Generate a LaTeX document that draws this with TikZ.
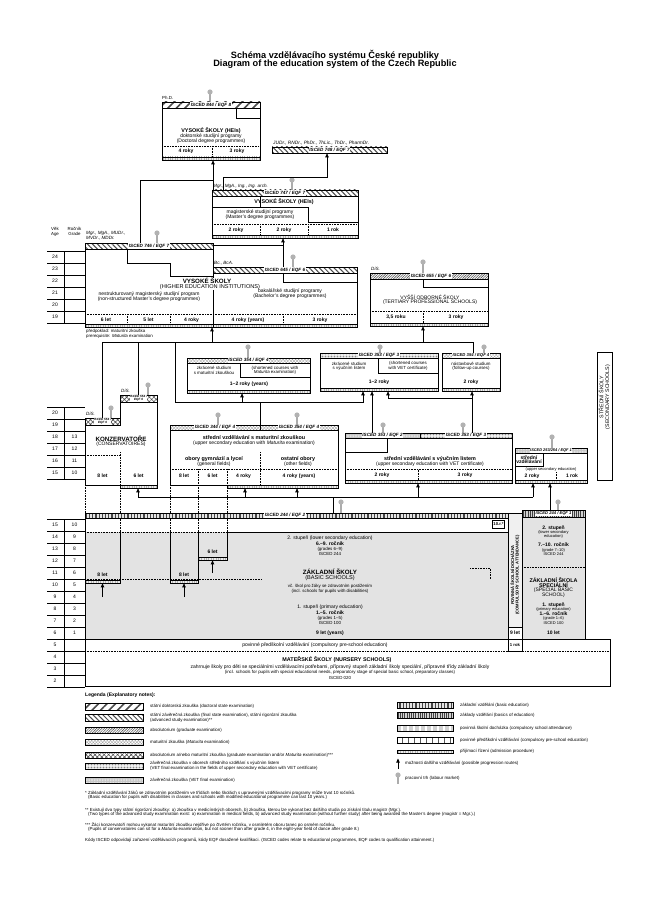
\documentclass[tikz,border=0pt]{standalone}
\usepackage{fontspec}
\setmainfont{Liberation Sans}
\usetikzlibrary{patterns.meta,arrows.meta}
\newcommand{\mkpin}[4]{\coordinate (#1) at (#2,#3);\draw[pinl] (#1) -- (#2,#4);\fill[pinh] (#1) circle (2.6pt);}
\begin{document}
\begin{tikzpicture}[x=1pt,y=-1pt,
 t/.style={font=\fontsize{5}{5.5}\selectfont,inner sep=0pt},
 tb/.style={font=\fontsize{5.4}{6}\selectfont\bfseries,inner sep=0pt},
 th/.style={font=\fontsize{6.2}{6.5}\selectfont\bfseries,inner sep=0pt},
 ty/.style={font=\fontsize{5}{5.5}\selectfont\bfseries,inner sep=0pt},
 ts/.style={font=\fontsize{4.4}{4.9}\selectfont,inner sep=0pt},
 tl/.style={font=\fontsize{4.4}{4.9}\selectfont,inner sep=0pt,anchor=west},
 lbl/.style={font=\fontsize{4.6}{4.6}\selectfont\bfseries\itshape,fill=white,inner sep=0.5pt},
 lbls/.style={font=\fontsize{3.1}{3.3}\selectfont\bfseries\itshape,fill=white,inner sep=0.3pt,align=center},
 box/.style={draw,line width=0.6pt,inner sep=0pt},
 ln/.style={line width=0.7pt},
 arr/.style={line width=0.7pt,-{Triangle[length=4pt,width=3.4pt]}},
 dotl/.style={line width=0.4pt,dash pattern=on 0.7pt off 0.9pt},
 bar/.style={draw,line width=0.6pt},
 pinl/.style={line width=1.3pt,gray!65},
 pinh/.style={fill=gray!60},
 doct/.style={pattern={Lines[angle=45,distance=6pt,line width=1.6pt]},pattern color=gray!60!black},
 sz/.style={pattern={Lines[angle=-45,distance=3.5pt,line width=1pt]},pattern color=gray!60!black},
 abs/.style={pattern={Lines[angle=45,distance=1.8pt,line width=0.6pt]},pattern color=gray!70!black},
 mat/.style={pattern={Hatch[angle=45,distance=2.2pt,line width=0.3pt]},pattern color=gray!75},
 absmat/.style={pattern={Hatch[angle=45,distance=3.2pt,line width=0.6pt]},pattern color=gray!60!black},
 vet/.style={pattern={Dots[distance=1.5pt,radius=0.35pt]},pattern color=gray!60!black},
 zav/.style={preaction={fill=gray!45},pattern={Dots[distance=1.6pt,radius=0.4pt]},pattern color=white},
 zv/.style={preaction={fill=gray!20},pattern={Lines[angle=90,distance=3.2pt,line width=1.2pt]},pattern color=gray!55!black},
 zakl/.style={preaction={fill=gray!35},pattern={Lines[angle=90,distance=2.2pt,line width=0.9pt]},pattern color=black!75},
 psd/.style={preaction={fill=gray!35},pattern={Lines[angle=90,distance=6pt,line width=1.5pt]},pattern color=white},
 ppv/.style={pattern={Lines[angle=90,distance=6pt,line width=0.4pt]},pattern color=gray!70!black},
 adm/.style={draw,line width=0.4pt,preaction={fill=gray!15},pattern={Lines[angle=90,distance=2.4pt,line width=0.9pt]},pattern color=gray!60},
 gz/.style={fill=gray!22}]
\useasboundingbox (0,0) rectangle (647,904);
\fill[white] (0,0) rectangle (647,904);
% ---------- title
\node[font=\fontsize{9.2}{9.2}\selectfont\bfseries] (ti1) at (335,55) {Schéma vzdělávacího systému České republiky};
\node[font=\fontsize{9.2}{9.2}\selectfont\bfseries] (ti2) at (335,64.5) {Diagram of the education system of the Czech Republic};
% ---------- age / grade grid
\node[ts] (hv1) at (55,229) {Věk};
\node[ts] (hv2) at (55,234) {Age};
\node[ts] (hr1) at (74.5,229) {Ročník};
\node[ts] (hr2) at (74.5,234) {Grade};
\foreach \a [count=\i] in {24,23,22,21,20,19} \node[t] (ta\i) at (55,{245+12*\i}) {\a};
\foreach \k in {0,...,6} \draw[line width=0.5pt] (47,{251+12*\k}) -- (85,{251+12*\k});
\foreach \a/\g [count=\i] in {20/,19/,18/13,17/12,16/11,15/10} {\node[t] (sa\i) at (55,{401+12*\i}) {\a}; \node[t] (sg\i) at (74.5,{401+12*\i}) {\g};}
\foreach \k in {0,...,6} \draw[line width=0.5pt] (47,{407+12*\k}) -- (85,{407+12*\k});
\foreach \a/\g [count=\i] in {15/10,14/9,13/8,12/7,11/6,10/5,9/4,8/3,7/2,6/1,5/,4/,3/,2/} {\node[t] (ba\i) at (55,{513+12*\i}) {\a}; \node[t] (bg\i) at (74.5,{513+12*\i}) {\g};}
\foreach \k in {0,...,14} \draw[line width=0.5pt] (47,{519+12*\k}) -- (85,{519+12*\k});
\draw[line width=0.4pt] (64,251)--(64,323) (64,407)--(64,479) (64,519)--(64,687);
% ---------- doctoral
\mkpin{p844}{210}{92}{102}
\node[tl] (phd) at (162,98) {Ph.D.};
\path[bar,doct] (162,102) rectangle (260,108);
\node[lbl] (b844) at (211,105) {ISCED 844 / EQF 8};
\node[box,minimum width=98pt,minimum height=49pt] (doc) at (211,132.5) {};
\draw[ln] (236,108) -- (236,118) -- (260,118);
\node[tb] (doc1) at (211,131) {VYSOKÉ ŠKOLY (HEIs)};
\node[t] (doc2) at (211,136.5) {doktorské studijní programy};
\node[t] (doc3) at (211,141) {(Doctoral degree programmes)};
\draw[dotl] (162,146) -- (260,146) (212,146) -- (212,157);
\node[ty] (doc4) at (186,151.5) {4 roky};
\node[ty] (doc5) at (237,151.5) {3 roky};
\path[adm] (162,157) rectangle (260,160);
% ---------- rigorosum
\node[font=\fontsize{4.8}{5}\selectfont\itshape,inner sep=0pt,anchor=west] (judr) at (273,143) {JUDr., RNDr., PhDr., ThLic., ThDr., PharmDr.};
\path[bar,sz] (272,147) rectangle (387,153);
\node[lbl] (b748) at (329.5,150) {ISCED 748 / EQF 7};
% ---------- master
\mkpin{p747}{292}{180}{190}
\node[font=\fontsize{4.6}{5}\selectfont\itshape,inner sep=0pt,anchor=west] (mgr) at (213,186) {Mgr., MgA., Ing., Ing. arch.};
\path[bar,sz] (212,190) rectangle (358,196);
\node[lbl] (b747) at (285,193) {ISCED 747 / EQF 7};
\node[box,minimum width=146pt,minimum height=39pt] (mag) at (285,215.5) {};
\draw[ln] (260,196) -- (260,207) (212,207) -- (308,207) -- (308,222) -- (358,222);
\node[tb] (mag1) at (284,202) {VYSOKÉ ŠKOLY (HEIs)};
\node[t] (mag2) at (260,212.5) {magisterské studijní programy};
\node[t] (mag3) at (260,217) {(Master's degree programmes)};
\draw[dotl] (212,224) -- (358,224) (260,224) -- (260,235) (308,224) -- (308,235);
\node[ty] (mag4) at (236,230) {2 roky};
\node[ty] (mag5) at (284,230) {2 roky};
\node[ty] (mag6) at (333,230) {1 rok};
\path[adm] (212,235) rectangle (358,238);
% connectors to doctoral / rigorosum
\coordinate (c746) at (140,243);
\coordinate (cdj) at (213,180);
\coordinate (cmag) at (213,190);
\coordinate (cdoc) at (213,160.3);
\coordinate (cmag2) at (223,190);
\coordinate (cj1) at (327,177);
\coordinate (cj2) at (327,153.3);
\draw[ln] (c746) |- (cdj);
\draw[arr] (cmag) -- (cdoc);
\draw[arr] (cmag2) |- (cj1) -- (cj2);
% ---------- long master
\node[font=\fontsize{4.6}{5}\selectfont\itshape,inner sep=0pt,anchor=west] (mud1) at (86,233.5) {Mgr., MgA., MUDr.,};
\node[font=\fontsize{4.6}{5}\selectfont\itshape,inner sep=0pt,anchor=west] (mud2) at (86,238.5) {MVDr., MDDr.};
\mkpin{p746}{157}{233}{243}
\path[bar,sz] (85,243) rectangle (213,249);
\node[lbl] (b746) at (149,246) {ISCED 746 / EQF 7};
\node[box,minimum width=128pt,minimum height=75pt] (nes) at (149,286.5) {};
\draw[ln] (127,249) -- (127,263) -- (170,263) -- (170,276) -- (213,276);
\node[t] (nes1) at (149,294) {nestrukturovaný magisterský studijní program};
\node[t] (nes2) at (149,299) {(non-structured Master's degree programmes)};
\draw[dotl] (85,314) -- (213,314) (127,314) -- (127,324) (170,314) -- (170,324);
\node[ty] (nes3) at (106,320) {6 let};
\node[ty] (nes4) at (148.5,320) {5 let};
\node[ty] (nes5) at (191.5,320) {4 roky};
\path[adm] (85,324) rectangle (213,327);
% ---------- bachelor
\node[font=\fontsize{4.6}{5}\selectfont\itshape,inner sep=0pt,anchor=west] (bc) at (214,263) {Bc., BcA.};
\mkpin{p645}{293}{257}{267}
\path[bar,sz] (213,267) rectangle (357,273);
\node[lbl] (b645) at (285,270) {ISCED 645 / EQF 6};
\node[box,minimum width=144pt,minimum height=51pt] (bak) at (285,298.5) {};
\draw[ln] (283,273) -- (283,282) -- (357,282);
\node[th,fill=white,inner sep=0.4pt] (vs1) at (207,281) {VYSOKÉ ŠKOLY};
\node[font=\fontsize{5.6}{6}\selectfont,fill=white,inner sep=0.3pt] (vs2) at (210,287) {(HIGHER EDUCATION INSTITUTIONS)};
\node[t] (bak1) at (290,291) {bakalářské studijní programy};
\node[t] (bak2) at (290,296) {(Bachelor's degree programmes)};
\draw[dotl] (213,314) -- (357,314) (283,314) -- (283,324);
\node[ty] (bak3) at (248,320) {4 roky (years)};
\node[ty] (bak4) at (320,320) {3 roky};
\path[adm] (213,324) rectangle (357,327);
\coordinate (cb1) at (283,267);
\coordinate (cb2) at (283,238.3);
\coordinate (cb3) at (213,245.5);
\coordinate (cb4) at (283,245.5);
\draw[arr] (cb1) -- (cb2);
\draw[ln] (cb3) -- (cb4);
% ---------- tertiary professional
\node[font=\fontsize{4.6}{5}\selectfont\itshape,inner sep=0pt,anchor=west] (dis1) at (371,269) {DiS.};
\mkpin{p655}{423}{262}{273}
\path[bar,abs] (370,273) rectangle (488,279);
\node[lbl] (b655) at (431,276) {ISCED 655 / EQF 6};
\node[box,minimum width=118pt,minimum height=44pt] (vos) at (429,301) {};
\draw[ln] (423,279) -- (423,287) -- (488,287);
\node[t] (vos1) at (430,297) {VYŠŠÍ ODBORNÉ ŠKOLY};
\node[t] (vos2) at (430,302) {(TERTIARY PROFESSIONAL SCHOOLS)};
\draw[dotl] (370,311) -- (488,311) (423,311) -- (423,323);
\node[ty] (vos3) at (396,317) {3,5 roku};
\node[ty] (vos4) at (456,317) {3 roky};
\path[adm] (370,323) rectangle (488,326);
% prerequisite
\node[tl] (pre1) at (86,331.5) {předpoklad: maturitní zkouška};
\node[tl] (pre2) at (86,336) {prerequisite: \textit{Maturita} examination};
% ---------- collector line of Maturita holders
\coordinate (k1) at (102,342);
\coordinate (k2) at (473,342);
\draw[ln] (k1) -- (k2);
\coordinate (kv1) at (212,342); \coordinate (kv2) at (212,327.3);
\coordinate (kw1) at (423,342); \coordinate (kw2) at (423,326.3);
\coordinate (kn) at (473,353);
\coordinate (kk1) at (102,418);
\coordinate (kk2a) at (138,342); \coordinate (kk2) at (138,395);
\draw[arr] (kv1) -- (kv2);
\draw[arr] (kw1) -- (kw2);
\draw[ln] (k2) -- (kn);
\draw[ln] (k1) -- (kk1);
\draw[ln] (kk2a) -- (kk2);
\coordinate (g1) at (260,425); \coordinate (g2) at (175,402); \coordinate (g3) at (175,342);
\draw[ln] (g1) |- (g2) -- (g3);
\coordinate (g4) at (260,402); \coordinate (g5) at (363,402); \coordinate (g6) at (363,391.3);
\draw[arr] (g4) -- (g5) -- (g6);
\coordinate (g7) at (242,402); \coordinate (g8) at (242,393.3);
\draw[arr] (g7) -- (g8);
% ---------- shortened courses with Maturita
\mkpin{p354a}{248}{347}{358}
\path[bar,mat] (187,358) rectangle (310,363);
\node[lbl] (b354a) at (248.5,360.5) {ISCED 354 / EQF 4};
\node[box,minimum width=123pt,minimum height=27pt] (zkm) at (248.5,376.5) {};
\node[ts] (zkm1) at (214,368) {zkrácené studium};
\node[ts] (zkm2) at (214,372.5) {s maturitní zkouškou};
\draw[line width=0.5pt] (240,363) -- (240,377) -- (310,377);
\node[ts] (zkm3) at (275,368) {(shortened courses with};
\node[ts] (zkm4) at (275,372.5) {\textit{Maturita} examination)};
\node[ty] (zkm5) at (249,384) {1–2 roky (years)};
\path[adm] (187,390) rectangle (310,393);
% ---------- shortened courses with VET certificate
\mkpin{p353a}{380}{347}{353}
\path[bar,vet] (320,353) rectangle (438,358);
\node[lbl] (b353a) at (379,355.5) {ISCED 353 / EQF 3};
\node[box,minimum width=118pt,minimum height=30pt] (zkv) at (379,373) {};
\node[ts] (zkv1) at (349,363.5) {zkrácené studium};
\node[ts] (zkv2) at (349,368) {s výučním listem};
\draw[line width=0.5pt] (378,358) -- (378,373) -- (438,373);
\node[ts] (zkv3) at (408,363.5) {(shortened courses};
\node[ts] (zkv4) at (408,368) {with VET certificate)};
\node[ty] (zkv5) at (379,382) {1–2 roky};
\path[adm] (320,388) rectangle (438,391);
% ---------- follow-up courses
\mkpin{p354b}{484}{347}{353}
\path[bar,mat] (442,353) rectangle (500,358);
\node[lbl,font=\fontsize{4.2}{4.2}\selectfont\bfseries\itshape] (b354b) at (471,355.5) {ISCED 354 / EQF 4};
\node[box,minimum width=58pt,minimum height=30pt] (nas) at (471,373) {};
\node[ts] (nas1) at (471,364) {nástavbové studium};
\node[ts] (nas2) at (471,368.5) {(follow-up courses)};
\node[ty] (nas3) at (471,382) {2 roky};
\path[adm] (442,388) rectangle (500,391);
% routes from VET
\coordinate (v1) at (472,433); \coordinate (v2) at (472,391.3);
\coordinate (v3) at (472,398); \coordinate (v4) at (388,391.3);
\coordinate (v5) at (372,433); \coordinate (v6) at (372,391.3);
\draw[arr] (v1) -- (v2);
\draw[arr] (v3) -| (v4);
\draw[arr] (v5) -- (v6);
% ---------- secondary schools bracket
\node[draw,line width=0.6pt,minimum width=15pt,minimum height=128pt] (ss) at (604.5,416) {};
\node[rotate=90,font=\fontsize{5.3}{5.8}\selectfont,align=center,inner sep=0pt] (sst) at (604.5,397) {STŘEDNÍ ŠKOLY\\(SECONDARY SCHOOLS)};
% ---------- conservatoires
\node[font=\fontsize{4.6}{5}\selectfont\itshape,inner sep=0pt,anchor=west] (dis2) at (121,391) {DiS.};
\mkpin{p554a}{148}{385}{395}
\path[bar,absmat] (120,395) rectangle (157,402);
\node[lbls] (b554a) at (138.5,398.5) {ISCED 554 /\\EQF 6};
\node[font=\fontsize{4.6}{5}\selectfont\itshape,inner sep=0pt,anchor=west] (dis3) at (86,414) {DiS.};
\mkpin{p554b}{111}{408}{418}
\path[bar,absmat] (85,418) rectangle (120,425);
\node[lbls] (b554b) at (102.5,421.5) {ISCED 554 /\\EQF 6};
\draw[line width=0.6pt] (85,425) -- (85,485) -- (157,485) -- (157,402) (120,402) -- (120,425);
\draw[dotl] (85,455) -- (120,455) (120,452) -- (120,485);
\node[th] (kon1) at (121,439) {KONZERVATOŘE};
\node[t] (kon2) at (121,444.5) {(CONSERVATOIRES)};
\node[ty] (kon3) at (102.5,476) {8 let};
\node[ty] (kon4) at (138.5,476) {6 let};
\path[adm] (120,485) rectangle (157,488);
% ---------- basic school area (fill first)
\fill[gz] (85,532) rectangle (508,639);
\fill[gz] (522,517) rectangle (585,639);
% ---------- upper secondary with Maturita
\mkpin{p344}{218}{415}{425}
\mkpin{p354c}{297}{415}{425}
\path[bar,mat] (170,425) rectangle (260,430);
\path[bar,mat] (260,425) rectangle (338,430);
\node[lbl] (b344) at (215,427.5) {ISCED 344 / EQF 4};
\node[lbl] (b354c) at (299,427.5) {ISCED 354 / EQF 4};
\node[box,minimum width=168pt,minimum height=55pt] (smz) at (254,457.5) {};
\node[tb] (smz1) at (254,438) {střední vzdělávání s maturitní zkouškou};
\node[t] (smz2) at (254,443.5) {(upper secondary education with \textit{Maturita} examination)};
\node[tb] (smz3) at (214,459) {obory gymnázií a lyceí};
\node[t] (smz4) at (214,464) {(general fields)};
\node[tb] (smz5) at (298,459) {ostatní obory};
\node[t] (smz6) at (298,464) {(other fields)};
\draw[dotl] (260,452) -- (260,485) (170,469) -- (338,469) (198,469) -- (198,485) (227,469) -- (227,485);
\node[ty] (smz7) at (184,476) {8 let};
\node[ty] (smz8) at (212.5,476) {6 let};
\node[ty] (smz9) at (243.5,476) {4 roky};
\node[ty] (smz10) at (299,476) {4 roky (years)};
\path[adm] (227,485) rectangle (338,488);
% long columns reaching into basic school
\draw[dotl] (170,485) -- (170,532) (198,485) -- (198,532) (227,485) -- (227,532) (120,485) -- (120,532) (85,485) -- (85,513);
\draw[ln] (170,532) -- (170,580) (198,532) -- (198,580) (227,532) -- (227,557) (120,532) -- (120,580);
\path[adm] (170,580) rectangle (198,583);
\path[adm] (198,557) rectangle (227,560);
\path[adm] (85,580) rectangle (120,583);
\node[ty] (col1) at (184,575) {8 let};
\node[ty] (col2) at (212.5,552) {6 let};
\node[ty] (col3) at (102.5,575) {8 let};
\coordinate (e1) at (184,597); \coordinate (e1b) at (184,583.3);
\coordinate (e2) at (212.5,573); \coordinate (e2b) at (212.5,560.3);
\coordinate (e3) at (102.5,597); \coordinate (e3b) at (102.5,583.3);
\draw[arr] (e1) -- (e1b);
\draw[arr] (e2) -- (e2b);
\draw[arr] (e3) -- (e3b);
% ---------- VET certificate
\mkpin{p353b}{383}{425}{433}
\mkpin{p353c}{463}{425}{433}
\path[bar,zav] (345,433) rectangle (420,438);
\path[bar,vet] (420,433) rectangle (512,438);
\node[lbl] (b353b) at (382.5,435.5) {ISCED 353 / EQF 2};
\node[lbl] (b353c) at (466,435.5) {ISCED 353 / EQF 3};
\node[box,minimum width=167pt,minimum height=42pt] (vetb) at (428.5,459) {};
\draw[ln] (345,452) -- (387,452) -- (387,438);
\node[tb] (vet1) at (430,459.5) {střední vzdělávání s výučním listem};
\node[t] (vet2) at (430,464.5) {(upper secondary education with VET certificate)};
\draw[dotl] (345,469.5) -- (512,469.5) (418,469.5) -- (418,480);
\node[ty] (vet3) at (382,475.5) {2 roky};
\node[ty] (vet4) at (465,475.5) {3 roky};
\path[adm] (345,480) rectangle (512,483);
% ---------- upper secondary education (without certificate)
\mkpin{p253}{552}{437}{448}
\path[bar,zav] (515,448) rectangle (587,453);
\node[lbl,font=\fontsize{3.9}{3.9}\selectfont\bfseries\itshape] (b253) at (551,450.5) {ISCED 253/254 / EQF 1};
\node[box,minimum width=72pt,minimum height=27pt] (svb) at (551,466.5) {};
\draw[line width=0.5pt] (515,466) -- (543,466) -- (543,453);
\node[ty] (sv1) at (529,457.5) {střední};
\node[ty] (sv2) at (529,462) {vzdělávání};
\node[font=\fontsize{4}{4}\selectfont,inner sep=0pt] (sv3) at (551,469.5) {(upper secondary education)};
\draw[dotl] (556,472) -- (556,480);
\node[ty] (sv4) at (532,476) {2 roky};
\node[ty] (sv5) at (572,476) {1 rok};
\path[adm] (515,480) rectangle (587,483);
% ---------- graduates of basic education line
\coordinate (h1) at (138,497); \coordinate (h2) at (533,497);
\draw[ln] (h1) -- (h2);
\coordinate (h1b) at (138,488.3);
\coordinate (h3) at (245,497); \coordinate (h3b) at (245,488.3);
\coordinate (h4) at (297,497); \coordinate (h4b) at (297,488.3);
\coordinate (h5) at (418,497); \coordinate (h5b) at (418,483.3);
\coordinate (h2b) at (533,483.3);
\coordinate (h6) at (333,497); \coordinate (h6b) at (333,513);
\draw[arr] (h1) -- (h1b);
\draw[arr] (h3) -- (h3b);
\draw[arr] (h4) -- (h4b);
\draw[arr] (h5) -- (h5b);
\draw[arr] (h2) -- (h2b);
\draw[ln] (h6) -- (h6b);
\mkpin{p244}{341}{502}{513}
% ---------- basic school
\path[bar,zv] (85,513) rectangle (508,518);
\node[lbl] (b244) at (285,515.5) {ISCED 244 / EQF 2};
\draw[dotl] (85,532) -- (227,532);
\draw[ln] (227,532) -- (508,532);
\node[draw,line width=0.5pt,font=\fontsize{4.2}{4.2}\selectfont\bfseries,inner sep=1pt,minimum height=8pt] (r10) at (498.5,524.5) {10.r.*};
\draw[dotl] (85,579) -- (262,579) (470,568) -- (490,568) -- (490,579);
\node[t] (zs1) at (330,538) {2. stupeň (lower secondary education)};
\node[ty] (zs2) at (330,544) {6.–9. ročník};
\node[ts] (zs3) at (330,549) {(grades 6–9)};
\node[ts] (zs4) at (330,554) {ISCED 244};
\node[th] (zs5) at (330,571.5) {ZÁKLADNÍ ŠKOLY};
\node[font=\fontsize{5.6}{6}\selectfont,inner sep=0pt] (zs6) at (330,578.5) {(BASIC SCHOOLS)};
\node[ts] (zs7) at (330,586) {vč. škol pro žáky se zdravotním postižením};
\node[ts] (zs8) at (330,591) {(incl. schools for pupils with disabilities)};
\node[t] (zs9) at (330,607) {1. stupeň (primary education)};
\node[ty] (zs10) at (330,613) {1.–5. ročník};
\node[ts] (zs11) at (330,618) {(grades 1–5)};
\node[ts] (zs12) at (330,623) {ISCED 100};
\node[ty] (zs13) at (330,633) {9 let (years)};
% compulsory attendance band
\node[draw,line width=0.5pt,fill=gray!12,minimum width=14pt,minimum height=114pt] (psdb) at (515,570) {};
\node[rotate=90,font=\fontsize{4.1}{4.6}\selectfont\bfseries,align=center,inner sep=0pt] (psdt) at (515,575) {POVINNÁ ŠKOLNÍ DOCHÁZKA\\(COMPULSORY SCHOOL ATTENDANCE)};
\node[draw,line width=0.5pt,ty,minimum width=14pt,minimum height=12pt] (nine) at (515,633) {9 let};
\node[draw,line width=0.5pt,ts,font=\fontsize{4.2}{4.2}\selectfont\bfseries,minimum width=14pt,minimum height=12pt] (onerok) at (515,645) {1 rok};
% ---------- special basic school
\mkpin{p244s}{558}{502}{510}
\path[bar,zakl] (522,510) rectangle (585,517);
\node[lbl,font=\fontsize{4.1}{4.1}\selectfont\bfseries\itshape] (b244s) at (553.5,513.5) {ISCED 244 / EQF 1};
\coordinate (zss1) at (550,510); \coordinate (zss2) at (550,483.3);
\draw[arr] (zss1) -- (zss2);
\node[box,minimum width=63pt,minimum height=122pt] (zssb) at (553.5,578) {};
\node[ty] (zss3) at (553.5,528) {2. stupeň};
\node[font=\fontsize{4}{4}\selectfont,inner sep=0pt] (zss4) at (553.5,532.5) {(lower secondary};
\node[font=\fontsize{4}{4}\selectfont,inner sep=0pt] (zss5) at (553.5,536.5) {education)};
\node[ty] (zss6) at (553.5,545) {7.–10. ročník};
\node[font=\fontsize{4}{4}\selectfont,inner sep=0pt] (zss7) at (553.5,550) {(grade 7–10)};
\node[font=\fontsize{4}{4}\selectfont,inner sep=0pt] (zss8) at (553.5,554.5) {ISCED 244};
\draw[dotl] (522,567) -- (585,567);
\node[tb] (zss9) at (553.5,580) {ZÁKLADNÍ ŠKOLA};
\node[tb] (zss10) at (553.5,585.5) {SPECIÁLNÍ};
\node[t] (zss11) at (553.5,590.5) {(SPECIAL BASIC};
\node[t] (zss12) at (553.5,595.5) {SCHOOL)};
\node[ty] (zss13) at (553.5,605) {1. stupeň};
\node[font=\fontsize{4}{4}\selectfont,inner sep=0pt] (zss14) at (553.5,609.5) {(primary education)};
\node[ty] (zss15) at (553.5,614) {1.–6. ročník};
\node[font=\fontsize{4}{4}\selectfont,inner sep=0pt] (zss16) at (553.5,618.5) {(grade 1–6)};
\node[font=\fontsize{4}{4}\selectfont,inner sep=0pt] (zss17) at (553.5,623) {ISCED 100};
\node[ty] (zss18) at (553.5,633) {10 let};
% ---------- pre-school
\draw[line width=0.6pt] (85,513) -- (85,686) -- (610,686) -- (610,639) -- (85,639);
\node[t] (ppv1) at (315,645.5) {povinné předškolní vzdělávání (compulsory pre-school education)};
\draw[dotl] (85,651) -- (610,651);
\node[tb] (ms1) at (337,660) {MATEŘSKÉ ŠKOLY (NURSERY SCHOOLS)};
\node[t] (ms2) at (340,667) {zahrnuje školy pro děti se speciálními vzdělávacími potřebami, přípravný stupeň základní školy speciální, přípravné třídy základní školy};
\node[ts] (ms3) at (340,672) {(incl. schools for pupils with special educational needs, preparatory stage of special basic school, preparatory classes)};
\node[ts] (ms4) at (340,678) {ISCED 020};
% ---------- legend
\node[font=\fontsize{5}{5}\selectfont\bfseries,inner sep=0pt,anchor=west] (leg) at (85,695) {Legenda (Explanatory notes):};
\path[bar,line width=0.5pt,doct] (85,703) rectangle (143,710);
\node[tl] (l1) at (150,706.5) {státní doktorská zkouška (doctoral state examination)};
\path[bar,line width=0.5pt,sz] (85,714) rectangle (143,721);
\node[tl] (l2a) at (150,715.5) {státní závěrečná zkouška (final state examination), státní rigorózní zkouška};
\node[tl] (l2b) at (150,720) {(advanced study examination)**};
\path[bar,line width=0.5pt,abs] (85,727) rectangle (143,733);
\node[tl] (l3) at (150,730) {absolutorium (graduate examination)};
\path[bar,line width=0.5pt,mat] (85,739) rectangle (143,745);
\node[tl] (l4) at (150,742) {maturitní zkouška (\textit{Maturita} examination)};
\path[bar,line width=0.5pt,absmat] (85,752) rectangle (143,758);
\node[tl] (l5) at (150,755) {absolutorium a/nebo maturitní zkouška (graduate examination and/or \textit{Maturita} examination)***};
\path[bar,line width=0.5pt,vet] (85,763) rectangle (143,769);
\node[tl] (l6a) at (150,763.5) {závěrečná zkouška v oborech středního vzdělání s výučním listem};
\node[tl] (l6b) at (150,768) {(VET final examination in the fields of upper secondary education with VET certificate)};
\path[bar,line width=0.5pt,zav] (85,777) rectangle (143,783);
\node[tl] (l7) at (150,780) {závěrečná zkouška (VET final examination)};
\path[bar,line width=0.5pt,zv] (397,702) rectangle (453,708);
\node[tl] (r1) at (460,705) {základní vzdělání (basic education)};
\path[bar,line width=0.5pt,zakl] (397,712) rectangle (453,718);
\node[tl] (r2) at (460,715) {základy vzdělání (basics of education)};
\path[bar,line width=0.5pt,psd] (397,725) rectangle (453,731);
\node[tl] (r3) at (460,728) {povinná školní docházka (compulsory school attendance)};
\path[bar,line width=0.5pt,ppv] (397,737) rectangle (453,743);
\node[tl] (r4) at (460,740) {povinné předškolní vzdělávání (compulsory pre-school education)};
\path[adm] (397,750) rectangle (453,753);
\node[tl] (r5) at (460,751.5) {přijímací řízení (admission procedure)};
\coordinate (la1) at (398,769); \coordinate (la2) at (398,758.5);
\draw[arr] (la1) -- (la2);
\node[tl] (r6) at (405,763) {možnosti dalšího vzdělávání (possible progression routes)};
\mkpin{lpin}{398}{775}{784}
\node[tl] (r7) at (405,778) {pracovní trh (labour market)};
% ---------- footnotes
\node[tl] (f1a) at (85,793) {* Základní vzdělávání žáků se zdravotním postižením ve třídách nebo školách s upravenými vzdělávacími programy může trvat 10 ročníků.};
\node[tl] (f1b) at (88,797.5) {(Basic education for pupils with disabilities in classes and schools with modified educational programme can last 10 years.)};
\node[tl] (f2a) at (85,810) {** Existují dva typy státní rigorózní zkoušky: a) zkouška v medicínských oborech, b) zkouška, kterou lze vykonat bez dalšího studia po získání titulu magistr (Mgr.).};
\node[tl] (f2b) at (88,814.5) {(Two types of the advanced study examination exist: a) examination in medical fields, b) advanced study examination (without further study) after being awarded the Master's degree (magistr = Mgr.).)};
\node[tl] (f3a) at (85,825) {*** Žáci konzervatoří mohou vykonat maturitní zkoušku nejdříve po čtvrtém ročníku, v osmiletém oboru tanec po osmém ročníku.};
\node[tl] (f3b) at (88,829.5) {(Pupils of conservatoires can sit for a \textit{Maturita} examination, but not sooner than after grade 4, in the eight-year field of dance after grade 8.)};
\node[tl] (f4) at (85,840) {Kódy ISCED odpovídají zařazení vzdělávacích programů, kódy EQF dosažené kvalifikaci. (ISCED codes relate to educational programmes, EQF codes to qualification attainment.)};
\end{tikzpicture}
\end{document}
